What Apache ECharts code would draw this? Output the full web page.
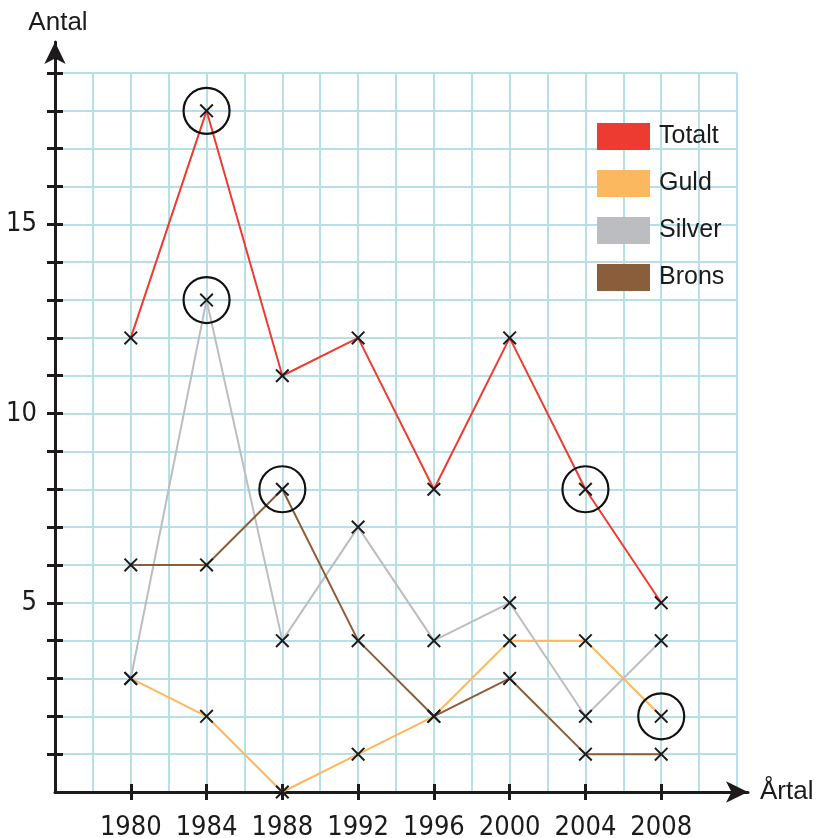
<!DOCTYPE html>
<html>
<head>
<meta charset="utf-8">
<script src="https://cdn.jsdelivr.net/npm/echarts@6/dist/echarts.min.js"></script>
<style>
  html, body { margin: 0; padding: 0; background: #fff; }
  #chart { width: 816px; height: 838px; }
</style>
</head>
<body>
<div id="chart"></div>
<script>
// medaljer per OS-år
var years = [1980, 1984, 1988, 1992, 1996, 2000, 2004, 2008]
var totalt = [12, 18, 11, 12, 8, 12, 8, 5]
var guld = [3, 2, 0, 1, 2, 4, 4, 2]
var silver = [3, 13, 4, 7, 4, 5, 2, 4]
var brons = [6, 6, 8, 4, 2, 3, 1, 1]
// inringade punkter
var circledYears = [1984, 1984, 1988, 2004, 2008]
var circledValues = [18, 13, 8, 8, 2]
var yTicks = [1, 2, 3, 4, 5, 6, 7, 8, 9, 10, 11, 12, 13, 14, 15, 16, 17, 18, 19]
var yLabels = [5, 10, 15]

var ink = '#1d1a1b'
var gridColor = '#b6e0e6'
var numFont = '"Liberation Sans Narrow", "DejaVu Sans Condensed", sans-serif'
var textFont = '"Liberation Sans", Arial, sans-serif'
var cross = 'path://M0,1 L1,0 L10,9 L9,10 Z M9,0 L10,1 L1,10 L0,9 Z'

const pairs = (vals) => years.map((y, i) => [y, vals[i]])

const lineSeries = (name, vals, color, width) => ({
  name: name,
  type: 'line',
  data: pairs(vals),
  showSymbol: false,
  itemStyle: { color: color },
  lineStyle: { color: color, width: width },
  z: 3
})

const crossSeries = (name, vals) => ({
  name: name + '-x',
  type: 'scatter',
  data: pairs(vals),
  symbol: cross,
  symbolSize: 14,
  itemStyle: { color: ink, opacity: 1 },
  silent: true,
  z: 5
})

// axis that only draws ticks (and maybe labels) from a custom list
const tickAxis = (pos, min, max, ticks, labels, inside, margin) => ({
  type: 'value', gridIndex: 0, position: pos, min: min, max: max,
  axisLine: { show: false }, splitLine: { show: false },
  axisTick: { show: true, inside: inside, length: 8, customValues: ticks, lineStyle: { color: ink, width: 3 } },
  axisLabel: labels ? {
    customValues: labels, margin: margin, formatter: (v) => String(v),
    fontSize: 27, color: ink, fontFamily: numFont
  } : { show: false }
})

const arrowAxis = (name, gap, pad) => ({
  type: 'value', gridIndex: 1, min: 0, max: 1,
  axisLine: { show: true, onZero: false, symbol: ['none', 'arrow'], symbolSize: [16, 22],
    lineStyle: { color: ink, width: 3 } },
  axisTick: { show: false }, axisLabel: { show: false }, splitLine: { show: false },
  name: name, nameLocation: 'end', nameGap: gap,
  nameTextStyle: { fontSize: 26, color: ink, fontFamily: textFont, padding: pad }
})

var option = {
  animation: false,
  legend: {
    data: ['Totalt', 'Guld', 'Silver', 'Brons'],
    orient: 'vertical',
    left: 597,
    top: 123,
    padding: 0,
    icon: 'rect',
    itemWidth: 53,
    itemHeight: 27,
    itemGap: 20,
    textStyle: { fontSize: 25, color: ink, fontFamily: textFont, padding: [0, 0, 0, 4] }
  },
  grid: [
    { left: 55, right: 79, top: 73, bottom: 46, outerBoundsMode: 'none' },
    { left: 55, right: 68, top: 42, bottom: 46, outerBoundsMode: 'none' }
  ],
  xAxis: [
    {
      type: 'value', gridIndex: 0, position: 'bottom', min: 1976, max: 2012, interval: 2,
      axisLine: { show: false }, axisTick: { show: false }, axisLabel: { show: false },
      splitLine: { show: true, lineStyle: { color: gridColor, width: 2 } }
    },
    arrowAxis('Årtal', 12, [18, 0, 0, 0]),
    tickAxis('bottom', 1976, 2012, years, years, false, 22),
    tickAxis('bottom', 1976, 2012, years, null, true, 0)
  ],
  yAxis: [
    {
      type: 'value', gridIndex: 0, position: 'left', min: 0, max: 19, interval: 1,
      axisLine: { show: false }, axisTick: { show: false }, axisLabel: { show: false },
      splitLine: { show: true, lineStyle: { color: gridColor, width: 2 } }
    },
    arrowAxis('Antal', 6, [0, 0, 0, 6]),
    tickAxis('left', 0, 19, yTicks, yLabels, false, 18),
    tickAxis('left', 0, 19, yTicks, null, true, 0)
  ],
  series: [
    lineSeries('Totalt', totalt, '#ee3b31', 2),
    lineSeries('Guld', guld, '#fbb85e', 2),
    lineSeries('Silver', silver, '#bcbdc0', 2),
    lineSeries('Brons', brons, '#8a5d3b', 2),
    crossSeries('Totalt', totalt),
    crossSeries('Guld', guld),
    crossSeries('Silver', silver),
    crossSeries('Brons', brons),
    {
      name: 'ringar',
      type: 'scatter',
      data: circledYears.map((y, i) => [y, circledValues[i]]),
      symbol: 'circle',
      symbolSize: 46,
      itemStyle: { color: 'rgba(0,0,0,0)', borderColor: '#111', borderWidth: 2.2, opacity: 1 },
      silent: true,
      z: 6
    }
  ]
}

const chart = echarts.init(document.getElementById('chart'))
chart.setOption(option)
</script>
</body>
</html>
